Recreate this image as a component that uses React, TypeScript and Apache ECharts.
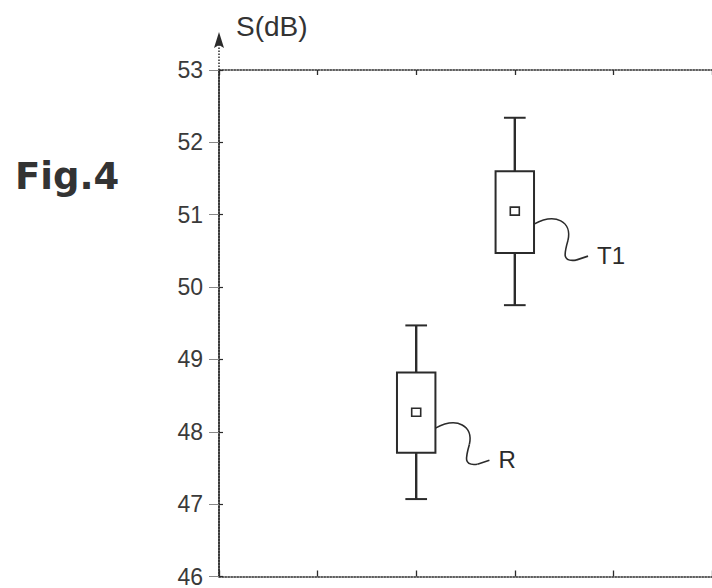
import React, { useEffect, useRef } from "react";
import * as echarts from "echarts";

// ---- data ----
const groupNames = ["R", "T1"];
const groupX = [2, 3];
const whiskerLow = [47.07, 49.75];
const boxQ1 = [47.71, 50.47];
const boxQ3 = [48.82, 51.6];
const whiskerHigh = [49.47, 52.34];
const meanValue = [48.27, 51.05];
const leaderStart = [48.05, 50.87];
const yTickMin = 46;
const yTickMax = 53;
const xMin = 0;
const xMax = 5;

const INK = "#2b2b2b";
const FONT = "'Liberation Sans', Arial, sans-serif";

export default function App() {
  const ref = useRef<HTMLDivElement>(null);

  useEffect(() => {
    if (!ref.current) return;
    const chart = echarts.init(ref.current, undefined, { renderer: "svg" });

    const data = groupX.map((x, i) => [
      x,
      whiskerLow[i],
      boxQ1[i],
      boxQ3[i],
      whiskerHigh[i],
      meanValue[i],
      leaderStart[i],
      i,
    ]);

    const renderItem = (params: any, api: any) => {
      const x = api.value(0);
      const idx = api.value(7);
      const pLow = api.coord([x, api.value(1)]);
      const pQ1 = api.coord([x, api.value(2)]);
      const pQ3 = api.coord([x, api.value(3)]);
      const pHigh = api.coord([x, api.value(4)]);
      const pMean = api.coord([x, api.value(5)]);
      const pLead = api.coord([x, api.value(6)]);
      const halfBox = api.size([0.39, 0])[0] / 2;
      const halfCap = api.size([0.22, 0])[0] / 2;
      const cx = pQ1[0];
      const stroke = { stroke: INK, lineWidth: 2, fill: "none" };
      const thin = { stroke: INK, lineWidth: 1.6, fill: "none" };
      const ax = cx + halfBox;
      const ay = pLead[1];
      return {
        type: "group",
        children: [
          {
            type: "rect",
            shape: { x: cx - halfBox, y: pQ3[1], width: halfBox * 2, height: pQ1[1] - pQ3[1] },
            style: { ...stroke, fill: "#fff" },
          },
          { type: "line", shape: { x1: cx, y1: pQ3[1], x2: cx, y2: pHigh[1] }, style: { ...stroke, lineWidth: 2.4 } },
          { type: "line", shape: { x1: cx, y1: pQ1[1], x2: cx, y2: pLow[1] }, style: { ...stroke, lineWidth: 2.4 } },
          { type: "line", shape: { x1: cx - halfCap, y1: pHigh[1], x2: cx + halfCap, y2: pHigh[1] }, style: stroke },
          { type: "line", shape: { x1: cx - halfCap, y1: pLow[1], x2: cx + halfCap, y2: pLow[1] }, style: stroke },
          {
            type: "rect",
            shape: { x: pMean[0] - 4.5, y: pMean[1] - 4, width: 9, height: 8 },
            style: { ...thin, fill: "#fff" },
          },
          {
            type: "bezierCurve",
            shape: { x1: ax, y1: ay, cpx1: ax + 22, cpy1: ay - 12, cpx2: ax + 38, cpy2: ay - 2, x2: ax + 34, y2: ay + 16 },
            style: thin,
          },
          {
            type: "bezierCurve",
            shape: { x1: ax + 34, y1: ay + 16, cpx1: ax + 30, cpy1: ay + 30, cpx2: ax + 28, cpy2: ay + 38, x2: ax + 42, y2: ay + 36 },
            style: thin,
          },
          {
            type: "line",
            shape: { x1: ax + 42, y1: ay + 36, x2: ax + 54, y2: ay + 32 },
            style: thin,
          },
          {
            type: "text",
            style: {
              x: ax + 63,
              y: ay + 31,
              text: groupNames[idx],
              fill: INK,
              font: `24px ${FONT}`,
              textVerticalAlign: "middle",
              verticalAlign: "middle",
            },
          },
        ],
      };
    };

    const axisLineStyle = { color: INK, width: 1.5, type: "dotted" as const };

    chart.setOption({
      animation: false,
      backgroundColor: "#fff",
      grid: { left: 219, top: 70, bottom: 11, right: -9, containLabel: false },
      xAxis: [
        {
          type: "value",
          position: "bottom",
          min: xMin,
          max: xMax,
          interval: 1,
          axisLine: { show: true, lineStyle: axisLineStyle },
          axisTick: { show: true, inside: true, length: 6, lineStyle: { color: INK, width: 1.3 } },
          axisLabel: { show: false },
          splitLine: { show: false },
        },
        {
          type: "value",
          position: "top",
          min: xMin,
          max: xMax,
          interval: 1,
          axisLine: { show: true, lineStyle: axisLineStyle },
          axisTick: { show: true, inside: true, length: 5, lineStyle: { color: INK, width: 1.3 } },
          axisLabel: { show: false },
          splitLine: { show: false },
        },
      ],
      yAxis: [
        {
          type: "value",
          position: "left",
          min: yTickMin,
          max: yTickMax,
          interval: 1,
          axisLine: { show: true, lineStyle: axisLineStyle },
          axisTick: { show: true, inside: true, length: 4, lineStyle: { color: INK, width: 1.2 } },
          axisLabel: { show: true, margin: 16, color: "#3a3a3a", fontSize: 23, fontFamily: FONT },
          splitLine: { show: false },
        },
        {
          type: "value",
          position: "right",
          min: yTickMin,
          max: yTickMax,
          interval: 1,
          axisLine: { show: true, lineStyle: axisLineStyle },
          axisTick: { show: true, inside: true, length: 10, lineStyle: { color: "#888", width: 1 } },
          axisLabel: { show: false },
          splitLine: { show: false },
        },
      ],
      series: [
        {
          type: "custom",
          renderItem,
          data,
          encode: { x: 0, y: [1, 4] },
          clip: false,
          z: 5,
        },
      ],
      graphic: [
        {
          type: "line",
          shape: { x1: 219, y1: 70, x2: 219, y2: 42 },
          style: { stroke: INK, lineWidth: 1.5, lineDash: [1.5, 1.5] },
        },
        {
          type: "polygon",
          shape: { points: [[219, 32], [214, 48], [219, 45], [224, 48]] },
          style: { fill: INK },
        },
        {
          type: "text",
          left: 236,
          top: 12,
          style: { text: "S(dB)", fill: "#333", font: `28px ${FONT}` },
        },
        {
          type: "text",
          left: 15,
          top: 158,
          style: { text: "Fig.4", fill: "#333", font: `bold 37px 'DejaVu Sans', sans-serif` },
        },
      ],
    });

    return () => chart.dispose();
  }, []);

  return (
    <div
      ref={ref}
      style={{ position: "fixed", left: 0, top: 0, width: 712, height: 588, background: "#fff" }}
    />
  );
}
